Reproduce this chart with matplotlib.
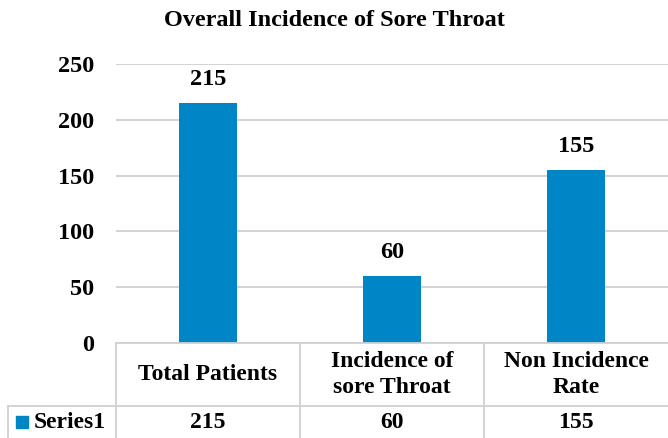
import matplotlib
matplotlib.use("Agg")
import matplotlib.pyplot as plt
from matplotlib.patches import Rectangle

categories = ["Total Patients", "Incidence of\nsore Throat", "Non Incidence\nRate"]
values = [215, 60, 155]
series_name = "Series1"
yticks = [0, 50, 100, 150, 200, 250]
title = "Overall Incidence of Sore Throat"

BLUE = "#0085C7"
GRID = "#D0D0D0"
W, H = 668, 438
plt.rcParams["font.family"] = ["Liberation Serif", "DejaVu Serif"]
plt.rcParams["font.weight"] = "bold"

fig = plt.figure(figsize=(W / 100, H / 100), dpi=100)

def fx(px):
    return px / W

def fy(py):
    return 1 - py / H

left, right, top, bottom = 116, 668, 64, 343
ax = fig.add_axes([fx(left), fy(bottom), fx(right - left), fy(top) - fy(bottom)])
x = list(range(len(categories)))
ax.bar(x, values, width=0.315, color=BLUE, zorder=3)
ax.set_xlim(-0.5, len(categories) - 0.5)
ax.set_ylim(0, 250)
ax.set_yticks(yticks)
ax.set_yticklabels([str(t) for t in yticks], fontsize=17.5, fontweight="bold")
ax.tick_params(axis="y", length=0, pad=16)
ax.set_xticks([])
for s in ax.spines.values():
    s.set_visible(False)
ax.yaxis.grid(True, color=GRID, linewidth=1.3, zorder=0)
for xi, v in zip(x, values):
    ax.text(xi, v + 12, str(v), ha="center", va="bottom", fontsize=17.5, fontweight="bold")

fig.text(0.5, fy(20), title, ha="center", va="center", fontsize=17.5, fontweight="bold")

# data table
cw = (right - left) / 3
tax = fig.add_axes([fx(8), 0, fx(W - 8), fy(bottom)])
tax.set_xlim(-0.5 - (left - 8) / cw, len(categories) - 0.5)
tax.set_ylim(H, bottom)
tax.axis("off")
x0 = tax.get_xlim()[0]
hdr_top, row_top, row_bot = bottom, 406, H
lw = 1.3
FS = 17
tax.plot([-0.5, len(categories) - 0.5], [hdr_top, hdr_top], color=GRID, lw=lw, clip_on=False)
tax.plot([x0, len(categories) - 0.5], [row_top, row_top], color=GRID, lw=lw, clip_on=False)
tax.plot([x0, x0], [row_top, row_bot], color=GRID, lw=lw, clip_on=False)
for i in range(len(categories)):
    tax.plot([i - 0.5, i - 0.5], [hdr_top, row_bot], color=GRID, lw=lw, clip_on=False)
for xi, (c, v) in enumerate(zip(categories, values)):
    tax.text(xi, (hdr_top + row_top) / 2, c, ha="center", va="center", fontsize=FS,
             fontweight="bold", linespacing=1.35)
    tax.text(xi, (row_top + row_bot) / 2 + 1, str(v), ha="center", va="center", fontsize=FS,
             fontweight="bold")
# legend key in the table
kx = x0 + 8 / cw
kw = 12 / cw
tax.add_patch(Rectangle((kx, 428), kw, -12, color=BLUE, clip_on=False))
tax.text(kx + kw + 6 / cw, (row_top + row_bot) / 2 + 1, series_name,
         ha="left", va="center", fontsize=FS, fontweight="bold")

fig.savefig("out.png", dpi=100)
